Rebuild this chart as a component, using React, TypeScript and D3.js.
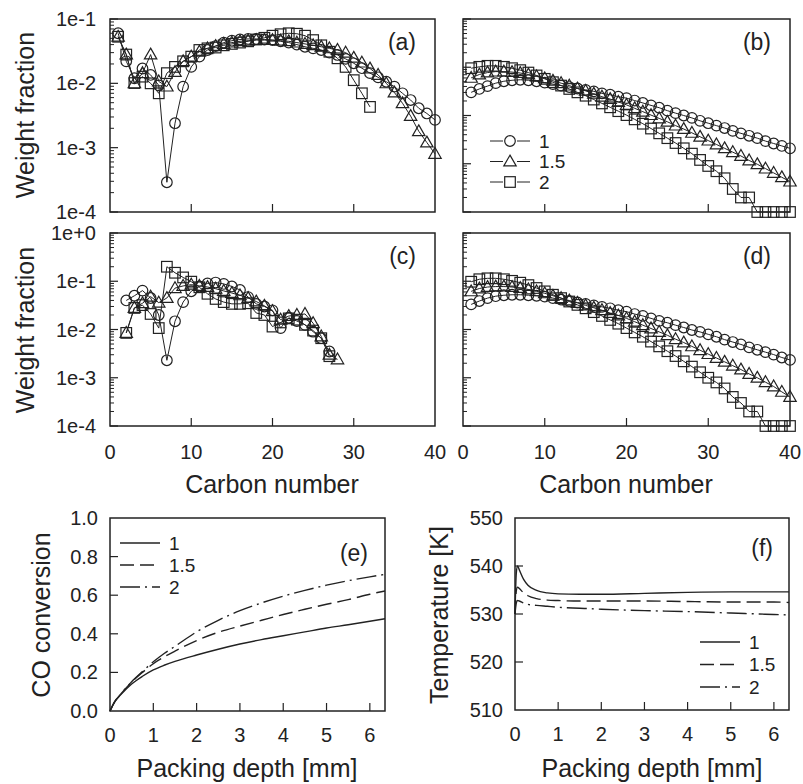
import * as d3 from "d3";
import React from "react";

const FONT = "'Liberation Sans', Arial, Helvetica, sans-serif";
const INK = "#222";

// carbon numbers
const carbon = [1, 2, 3, 4, 5, 6, 7, 8, 9, 10, 11, 12, 13, 14, 15, 16, 17, 18, 19, 20,
  21, 22, 23, 24, 25, 26, 27, 28, 29, 30, 31, 32, 33, 34, 35, 36, 37, 38, 39, 40];

// (a) weight fractions
const aCircle = [0.060, 0.022, 0.012, 0.017, 0.0135, 0.0093, 0.00029, 0.0024, 0.0089, 0.018,
  0.026, 0.033, 0.038, 0.043, 0.046, 0.048, 0.049, 0.049, 0.048, 0.047,
  0.045, 0.043, 0.040, 0.037, 0.035, 0.033, 0.030, 0.0276, 0.024, 0.0205,
  0.0172, 0.0144, 0.0124, 0.0106, 0.0089, 0.0070, 0.0055, 0.0041, 0.0034, 0.0027];
const aTriangle = [0.053, 0.028, 0.010, 0.0144, 0.028, 0.0107, 0.0089, 0.015, 0.022, 0.026,
  0.031, 0.035, 0.038, 0.041, 0.043, 0.045, 0.046, 0.047, 0.047, 0.047,
  0.046, 0.045, 0.043, 0.041, 0.039, 0.037, 0.035, 0.033, 0.030, 0.025,
  0.021, 0.017, 0.0135, 0.0100, 0.0072, 0.0049, 0.0031, 0.0018, 0.0012, 0.0008];
const aSquare = [0.053, 0.028, 0.0101, 0.0127, 0.010, 0.0070, 0.0144, 0.018, 0.022, 0.026,
  0.033, 0.035, 0.036, 0.039, 0.041, 0.043, 0.045, 0.048, 0.051, 0.055,
  0.058, 0.060, 0.059, 0.055, 0.047, 0.039, 0.031, 0.0245, 0.018, 0.0112,
  0.0070, 0.0043];

// (b)
const bCircle = [0.0302, 0.0355, 0.0407, 0.0468, 0.0513, 0.0537, 0.0550, 0.0537, 0.0513, 0.0479,
  0.0447, 0.0417, 0.0389, 0.0363, 0.0339, 0.0316, 0.0288, 0.0269, 0.0245, 0.0229,
  0.0204, 0.0182, 0.0162, 0.0145, 0.0126, 0.0112, 0.0100, 0.00891, 0.00776, 0.00692,
  0.00617, 0.00550, 0.00479, 0.00427, 0.00380, 0.00339, 0.00295, 0.00263, 0.00234, 0.00209];
const bTriangle = [0.0603, 0.0708, 0.0776, 0.0813, 0.0813, 0.0794, 0.0759, 0.0708, 0.0646, 0.0589,
  0.0525, 0.0468, 0.0417, 0.0363, 0.0324, 0.0282, 0.0245, 0.0219, 0.0191, 0.0166,
  0.0141, 0.0120, 0.0102, 0.00871, 0.00741, 0.00617, 0.00525, 0.00437, 0.00363, 0.00302,
  0.00251, 0.00209, 0.00174, 0.00145, 0.00117, 0.000977, 0.000794, 0.000646, 0.000525, 0.000427];
const bSquare = [0.0955, 0.102, 0.107, 0.107, 0.102, 0.0955, 0.0871, 0.0776, 0.0676, 0.0575,
  0.0490, 0.0417, 0.0355, 0.0302, 0.0257, 0.0214, 0.0178, 0.0148, 0.0123, 0.0102,
  0.00832, 0.00676, 0.00537, 0.00427, 0.00339, 0.00269, 0.00209, 0.00162, 0.0012, 0.0009,
  0.0007, 0.0005, 0.0003, 0.0002, 0.0002, 0.0001, 0.0001, 0.0001, 0.0001, 0.0001];

// (c) starts at C2
const cCircle = [0.040, 0.050, 0.064, 0.045, 0.020, 0.0023, 0.0148, 0.037, 0.062,
  0.078, 0.090, 0.094, 0.088, 0.078, 0.066, 0.047, 0.034, 0.030, 0.025,
  0.0107, 0.0175, 0.0150, 0.0125, 0.0090, 0.0066, 0.0035];
const cTriangle = [0.0085, 0.028, 0.035, 0.048, 0.036, 0.045, 0.072, 0.080, 0.085,
  0.080, 0.076, 0.070, 0.063, 0.057, 0.051, 0.045, 0.038, 0.031, 0.024,
  0.016, 0.019, 0.020, 0.021, 0.0135, 0.0072, 0.0030, 0.0024];
const cSquare = [0.0085, 0.028, 0.032, 0.021, 0.0107, 0.20, 0.15, 0.12, 0.098,
  0.075, 0.055, 0.043, 0.037, 0.034, 0.034, 0.035, 0.022, 0.020, 0.0115,
  0.0140, 0.0170, 0.0160, 0.0125, 0.0095, 0.0066, 0.0028];

// (d)
const dCircle = [0.0331, 0.0389, 0.0447, 0.0490, 0.0513, 0.0525, 0.0525, 0.0513, 0.0501, 0.0479,
  0.0447, 0.0417, 0.0389, 0.0363, 0.0339, 0.0316, 0.0295, 0.0275, 0.0251, 0.0234,
  0.0209, 0.0191, 0.0170, 0.0151, 0.0138, 0.0123, 0.0110, 0.00977, 0.00891, 0.00794,
  0.00708, 0.00617, 0.00550, 0.00490, 0.00427, 0.00380, 0.00339, 0.00302, 0.00263, 0.00234];
const dTriangle = [0.0617, 0.0708, 0.0759, 0.0776, 0.0776, 0.0759, 0.0724, 0.0676, 0.0617, 0.0562,
  0.0501, 0.0447, 0.0398, 0.0355, 0.0316, 0.0282, 0.0251, 0.0219, 0.0195, 0.0170,
  0.0145, 0.0123, 0.0105, 0.00891, 0.00759, 0.00631, 0.00537, 0.00447, 0.00372, 0.00309,
  0.00257, 0.00214, 0.00178, 0.00148, 0.00120, 0.00100, 0.00081, 0.00066, 0.00051, 0.00040];
const dSquare = [0.0977, 0.110, 0.115, 0.115, 0.110, 0.102, 0.0933, 0.0832, 0.0724, 0.0617,
  0.0525, 0.0447, 0.0380, 0.0324, 0.0275, 0.0229, 0.0191, 0.0158, 0.0132, 0.0107,
  0.00871, 0.00708, 0.00562, 0.00447, 0.00355, 0.00282, 0.00219, 0.00170, 0.0013, 0.0010,
  0.0008, 0.0006, 0.0004, 0.0003, 0.0002, 0.0002, 0.0001, 0.0001, 0.0001, 0.0001];

// (e) CO conversion
const depthE = [0, 0.1, 0.25, 0.5, 0.75, 1, 1.25, 1.5, 2, 2.5, 3, 3.5, 4, 4.5, 5, 5.5, 6, 6.35];
const conv1 = [0, 0.045, 0.085, 0.14, 0.18, 0.213, 0.237, 0.257, 0.29, 0.32, 0.347, 0.37, 0.39, 0.41, 0.43, 0.447, 0.465, 0.478];
const conv15 = [0, 0.045, 0.088, 0.15, 0.2, 0.245, 0.28, 0.31, 0.365, 0.408, 0.44, 0.47, 0.5, 0.527, 0.553, 0.577, 0.605, 0.622];
const conv2 = [0, 0.045, 0.088, 0.152, 0.205, 0.255, 0.298, 0.335, 0.41, 0.47, 0.52, 0.56, 0.595, 0.625, 0.652, 0.675, 0.695, 0.708];

// (f) temperature
const depthF = [0, 0.03, 0.06, 0.1, 0.2, 0.3, 0.5, 0.75, 1, 1.5, 2, 3, 4, 5, 6, 6.35];
const temp1 = [530, 538.5, 540, 539.2, 537.2, 536, 534.9, 534.4, 534.2, 534.1, 534.1, 534.3, 534.5, 534.6, 534.6, 534.6];
const temp15 = [530, 534.8, 535.6, 535.3, 534.4, 533.8, 533.2, 532.9, 532.8, 532.7, 532.7, 532.7, 532.6, 532.5, 532.5, 532.4];
const temp2 = [530, 532.3, 532.8, 532.7, 532.3, 532.0, 531.8, 531.6, 531.4, 531.2, 531.0, 530.7, 530.5, 530.2, 529.9, 529.8];

const legendNames = ["1", "1.5", "2"];
const shapes = ["circle", "triangle", "square"];
const dashes = [null, "14,6", "20,5,2,5"];

function Marker({ shape, x, y }) {
  const common = { fill: "none", stroke: INK, strokeWidth: 1.2 };
  if (shape === "circle") return <circle cx={x} cy={y} r={5.3} {...common} />;
  if (shape === "triangle")
    return <path d={`M${x},${y - 6.4}L${x + 6.2},${y + 4.4}L${x - 6.2},${y + 4.4}Z`} {...common} />;
  return <rect x={x - 5.3} y={y - 5.3} width={10.6} height={10.6} {...common} />;
}

const expLabel = (e: number) => `1e${e >= 0 ? "+" : "-"}${Math.abs(e)}`;

function LogPanel({ box, domain, series, yLabels, xLabels, tag, legend }) {
  const x = d3.scaleLinear().domain([0, 40]).range([box.left, box.right]);
  const y = d3.scaleLog().domain(domain).range([box.bottom, box.top]);
  const line = d3.line<number[]>().x((d) => x(d[0])).y((d) => y(d[1]));
  const lo = Math.round(Math.log10(domain[0]));
  const hi = Math.round(Math.log10(domain[1]));
  const decades = d3.range(lo, hi + 1);
  const minors: number[] = [];
  decades.slice(0, -1).forEach((e) => {
    for (let k = 2; k <= 9; k++) minors.push(k * Math.pow(10, e));
  });
  const xt = [0, 10, 20, 30, 40];

  return (
    <g>
      {series.map((s, i) => {
        const pts = s.v.map((v, j) => [s.n[j], v]);
        return (
          <g key={i}>
            <path d={line(pts)} fill="none" stroke={INK} strokeWidth={1} />
            {pts.map((p, j) => (
              <Marker key={j} shape={s.shape} x={x(p[0])} y={y(p[1])} />
            ))}
          </g>
        );
      })}
      <rect x={box.left} y={box.top} width={box.right - box.left} height={box.bottom - box.top}
        fill="none" stroke={INK} strokeWidth={1.5} />
      {decades.map((e) => (
        <line key={"M" + e} x1={box.left} x2={box.left + 8} y1={y(Math.pow(10, e))} y2={y(Math.pow(10, e))}
          stroke={INK} strokeWidth={1.2} />
      ))}
      {minors.map((m, i) => (
        <line key={"m" + i} x1={box.left} x2={box.left + 4} y1={y(m)} y2={y(m)} stroke={INK} strokeWidth={1} />
      ))}
      {xt.slice(1, -1).map((t) => (
        <line key={"x" + t} x1={x(t)} x2={x(t)} y1={box.bottom} y2={box.bottom - 8} stroke={INK} strokeWidth={1.2} />
      ))}
      {yLabels &&
        decades.map((e) => (
          <text key={"l" + e} x={box.left - 14} y={y(Math.pow(10, e))} dy="0.35em" textAnchor="end"
            fontSize={20} fill={INK}>{expLabel(e)}</text>
        ))}
      {xLabels &&
        xt.map((t) => (
          <text key={"xl" + t} x={x(t)} y={box.bottom + 33} textAnchor="middle" fontSize={20} fill={INK}>{t}</text>
        ))}
      <text x={box.right - 19} y={box.top + 31} textAnchor="end" fontSize={23} fill={INK}>{tag}</text>
      {legend &&
        legendNames.map((name, i) => {
          const ly = legend.y + i * 20.5;
          return (
            <g key={name}>
              <line x1={legend.x} x2={legend.x + 13} y1={ly} y2={ly} stroke={INK} strokeWidth={1} />
              <line x1={legend.x + 27} x2={legend.x + 40} y1={ly} y2={ly} stroke={INK} strokeWidth={1} />
              <Marker shape={shapes[i]} x={legend.x + 20} y={ly} />
              <text x={legend.x + 49} y={ly} dy="0.35em" fontSize={19} fill={INK}>{name}</text>
            </g>
          );
        })}
    </g>
  );
}

function LinePanel({ box, xDomain, yDomain, yTicks, yFmt, depth, curves, tag, legend }) {
  const x = d3.scaleLinear().domain(xDomain).range([box.left, box.right]);
  const y = d3.scaleLinear().domain(yDomain).range([box.bottom, box.top]);
  const line = d3.line<number>().x((d, i) => x(depth[i])).y((d) => y(d)).curve(d3.curveMonotoneX);
  const xt = [0, 1, 2, 3, 4, 5, 6];
  return (
    <g>
      {curves.map((c, i) => (
        <path key={i} d={line(c)} fill="none" stroke={INK} strokeWidth={1.4}
          strokeDasharray={dashes[i] || undefined} />
      ))}
      <rect x={box.left} y={box.top} width={box.right - box.left} height={box.bottom - box.top}
        fill="none" stroke={INK} strokeWidth={1.5} />
      {xt.slice(1).map((t) => (
        <line key={"x" + t} x1={x(t)} x2={x(t)} y1={box.bottom} y2={box.bottom - 8} stroke={INK} strokeWidth={1.2} />
      ))}
      {xt.map((t) => (
        <text key={"xl" + t} x={x(t)} y={box.bottom + 31} textAnchor="middle" fontSize={20} fill={INK}>{t}</text>
      ))}
      {yTicks.slice(1, -1).map((t) => (
        <line key={"y" + t} x1={box.left} x2={box.left + 8} y1={y(t)} y2={y(t)} stroke={INK} strokeWidth={1.2} />
      ))}
      {yTicks.map((t) => (
        <text key={"yl" + t} x={box.left - 12} y={y(t)} dy="0.35em" textAnchor="end" fontSize={20} fill={INK}>
          {yFmt(t)}
        </text>
      ))}
      <text x={tag.x} y={tag.y} textAnchor="end" fontSize={23} fill={INK}>{tag.text}</text>
      {legendNames.map((name, i) => {
        const ly = legend.y + i * legend.dy;
        return (
          <g key={name}>
            <line x1={legend.x} x2={legend.x + 40} y1={ly} y2={ly} stroke={INK} strokeWidth={1.4}
              strokeDasharray={dashes[i] || undefined} />
            <text x={legend.x + 49} y={ly} dy="0.35em" fontSize={19} fill={INK}>{name}</text>
          </g>
        );
      })}
    </g>
  );
}

const mk = (n, v, shape) => ({ n, v, shape });

export default function App() {
  const boxA = { left: 110, right: 435, top: 19, bottom: 212 };
  const boxB = { left: 463, right: 790, top: 19, bottom: 212 };
  const boxC = { left: 110, right: 435, top: 233, bottom: 426 };
  const boxD = { left: 463, right: 790, top: 233, bottom: 426 };
  const boxE = { left: 110, right: 385, top: 518, bottom: 711 };
  const boxF = { left: 515, right: 789, top: 518, bottom: 710 };
  const TS = 25;

  return (
    <svg width={803} height={784} style={{ position: "absolute", left: 0, top: 0, background: "#fff" }}
      fontFamily={FONT}>
      <LogPanel box={boxA} domain={[1e-4, 1e-1]} yLabels xLabels={false} tag="(a)"
        series={[mk(carbon, aCircle, "circle"), mk(carbon, aTriangle, "triangle"),
          mk(carbon.slice(0, aSquare.length), aSquare, "square")]} />
      <LogPanel box={boxB} domain={[1e-4, 1]} yLabels={false} xLabels={false} tag="(b)"
        legend={{ x: 490, y: 141 }}
        series={[mk(carbon, bCircle, "circle"), mk(carbon, bTriangle, "triangle"), mk(carbon, bSquare, "square")]} />
      <LogPanel box={boxC} domain={[1e-4, 1]} yLabels xLabels tag="(c)"
        series={[mk(carbon.slice(1, 1 + cCircle.length), cCircle, "circle"),
          mk(carbon.slice(1, 1 + cTriangle.length), cTriangle, "triangle"),
          mk(carbon.slice(1, 1 + cSquare.length), cSquare, "square")]} />
      <LogPanel box={boxD} domain={[1e-4, 1]} yLabels={false} xLabels tag="(d)"
        series={[mk(carbon, dCircle, "circle"), mk(carbon, dTriangle, "triangle"), mk(carbon, dSquare, "square")]} />

      <LinePanel box={boxE} xDomain={[0, 6.35]} yDomain={[0, 1]} yTicks={[0, 0.2, 0.4, 0.6, 0.8, 1.0]}
        yFmt={(t) => t.toFixed(1)} depth={depthE} curves={[conv1, conv15, conv2]}
        tag={{ x: 368, y: 561, text: "(e)" }} legend={{ x: 120, y: 543, dy: 22 }} />
      <LinePanel box={boxF} xDomain={[0, 6.35]} yDomain={[510, 550]} yTicks={[510, 520, 530, 540, 550]}
        yFmt={(t) => String(t)} depth={depthF} curves={[temp1, temp15, temp2]}
        tag={{ x: 773, y: 556, text: "(f)" }} legend={{ x: 700, y: 642, dy: 22.5 }} />

      <text transform="translate(34,115) rotate(-90)" textAnchor="middle" fontSize={TS} fill={INK}>Weight fraction</text>
      <text transform="translate(34,330) rotate(-90)" textAnchor="middle" fontSize={TS} fill={INK}>Weight fraction</text>
      <text x={272} y={493} textAnchor="middle" fontSize={TS} fill={INK}>Carbon number</text>
      <text x={626} y={493} textAnchor="middle" fontSize={TS} fill={INK}>Carbon number</text>
      <text transform="translate(50,615) rotate(-90)" textAnchor="middle" fontSize={TS} fill={INK}>CO conversion</text>
      <text transform="translate(448,615) rotate(-90)" textAnchor="middle" fontSize={TS} fill={INK}>Temperature [K]</text>
      <text x={247} y={777} textAnchor="middle" fontSize={TS} fill={INK}>Packing depth [mm]</text>
      <text x={652} y={777} textAnchor="middle" fontSize={TS} fill={INK}>Packing depth [mm]</text>
    </svg>
  );
}
